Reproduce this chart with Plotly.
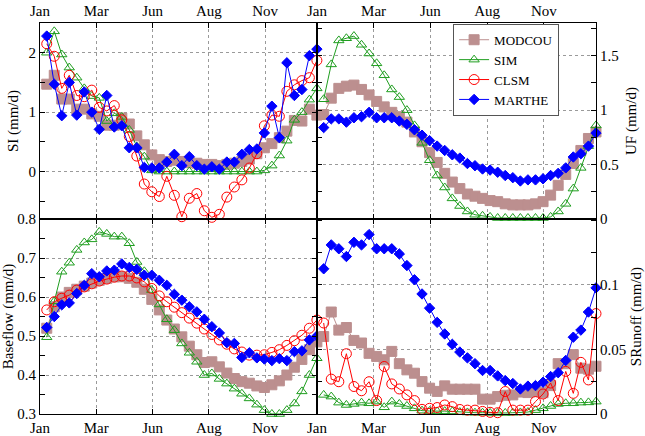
import plotly.graph_objects as go

# ---------------- data ----------------
DEC = [1, 2, 3, 4, 5, 6, 7, 8, 9, 10, 11, 12, 13, 14, 15, 16, 17, 18, 19, 20,
       21, 22, 23, 24, 25, 26, 27, 28, 29, 30, 31, 32, 33, 34, 35, 36, 37]
MONTH_LABELS = ["Jan", "Mar", "Jun", "Aug", "Nov"]
SERIES = ["MODCOU", "SIM", "CLSM", "MARTHE"]

SI_MODCOU = [1.47, 1.62, 1.22, 1.22, 1.05, 1.05, 0.97, 0.93, 0.78, 0.78, 0.90, 0.80,
             0.60, 0.45, 0.28, 0.20, 0.17, 0.19, 0.17, 0.15, 0.14, 0.12, 0.12, 0.10,
             0.12, 0.14, 0.17, 0.21, 0.30, 0.40, 0.47, 0.57, 0.68, 0.86, 0.85, 1.05, 0.95]
SI_SIM = [2.0, 2.36, 1.97, 1.75, 1.58, 1.40, 1.27, 1.24, 0.85, 0.98, 0.92, 0.70,
          0.42, 0.25, 0.02, 0, 0, 0, 0, 0, 0, 0, 0, 0, 0, 0, 0, 0, 0,
          0.02, 0.10, 0.27, 0.52, 0.87, 1.0, 1.21, 1.4]
SI_CLSM = [2.15, 1.94, 1.40, 1.62, 1.28, 1.26, 1.37, 1.08, 1.02, 1.11, 0.87, 0.59,
           0.26, -0.21, -0.34, -0.42, -0.08, -0.40, -0.76, -0.45, -0.37, -0.66, -0.77,
           -0.72, -0.43, -0.26, -0.14, 0.06, 0.30, 0.77, 0.95, 0.93, 1.35, 1.46, 1.53,
           1.58, 1.87]
SI_MARTHE = [2.28, 1.47, 0.94, 1.50, 0.95, 1.34, 1.00, 0.71, 1.28, 0.75, 0.77, 0.40,
             0.40, 0.07, 0.06, 0.06, 0.16, 0.29, 0.10, 0.25, 0.10, 0.04, 0.08, 0.04,
             0.16, 0.16, 0.29, 0.37, 0.38, 0.65, 1.10, 0.57, 1.83, 1.28, 1.38, 1.95, 2.06]

UF_MODCOU = [0.96, 1.11, 1.20, 1.22, 1.23, 1.19, 1.14, 1.08, 1.03, 0.98, 0.94, 0.89,
             0.80, 0.71, 0.61, 0.52, 0.42, 0.34, 0.28, 0.23, 0.21, 0.19, 0.17, 0.16,
             0.14, 0.13, 0.13, 0.13, 0.14, 0.16, 0.22, 0.31, 0.41, 0.51, 0.63, 0.74, 0.80]
UF_SIM = [1.10, 1.42, 1.64, 1.66, 1.68, 1.60, 1.52, 1.43, 1.32, 1.19, 1.12, 1.00,
          0.86, 0.70, 0.54, 0.40, 0.29, 0.19, 0.12, 0.07, 0.04, 0.03, 0.02, 0.01,
          0.01, 0.01, 0.01, 0.01, 0.01, 0.01, 0.02, 0.07, 0.14, 0.28, 0.47, 0.67, 0.86]
UF_MARTHE = [0.84, 0.92, 0.92, 0.89, 0.93, 0.94, 0.98, 0.93, 0.93, 0.93, 0.90, 0.87,
             0.82, 0.77, 0.72, 0.67, 0.63, 0.59, 0.56, 0.51, 0.49, 0.46, 0.45, 0.43,
             0.40, 0.38, 0.35, 0.36, 0.36, 0.37, 0.40, 0.42, 0.47, 0.57, 0.60, 0.67, 0.79]

BF_MODCOU = [0.52, 0.575, 0.60, 0.612, 0.62, 0.628, 0.636, 0.643, 0.648, 0.652, 0.652,
             0.648, 0.638, 0.62, 0.594, 0.567, 0.541, 0.518, 0.498, 0.474, 0.452, 0.432,
             0.434, 0.421, 0.405, 0.391, 0.383, 0.379, 0.372, 0.368, 0.375, 0.385, 0.40,
             0.42, 0.44, 0.465, 0.485]
BF_SIM = [0.497, 0.589, 0.665, 0.688, 0.721, 0.740, 0.748, 0.767, 0.762, 0.755, 0.755,
          0.738, 0.69, 0.666, 0.618, 0.581, 0.543, 0.515, 0.481, 0.457, 0.434, 0.40,
          0.404, 0.39, 0.378, 0.365, 0.352, 0.34, 0.324, 0.31, 0.30, 0.30, 0.31, 0.327,
          0.358, 0.40, 0.443]
BF_CLSM = [0.567, 0.588, 0.597, 0.605, 0.618, 0.626, 0.634, 0.641, 0.646, 0.651, 0.654,
           0.654, 0.649, 0.639, 0.622, 0.603, 0.588, 0.574, 0.56, 0.546, 0.533, 0.518,
           0.504, 0.49, 0.479, 0.467, 0.459, 0.451, 0.451, 0.452, 0.458, 0.465, 0.476,
           0.488, 0.502, 0.52, 0.541]
BF_MARTHE = [0.522, 0.55, 0.58, 0.585, 0.609, 0.63, 0.66, 0.652, 0.667, 0.669, 0.685,
             0.676, 0.671, 0.656, 0.656, 0.643, 0.63, 0.607, 0.592, 0.575, 0.562, 0.543,
             0.524, 0.508, 0.483, 0.481, 0.445, 0.457, 0.444, 0.441, 0.437, 0.442, 0.437,
             0.46, 0.462, 0.49, 0.50]

SR_MODCOU = [0.060, 0.079, 0.065, 0.067, 0.057, 0.055, 0.047, 0.0446, 0.042, 0.0485,
             0.039, 0.0342, 0.0316, 0.0251, 0.020, 0.0175, 0.0218, 0.0192, 0.0192, 0.0192,
             0.0192, 0.0115, 0.0115, 0.0135, 0.0145, 0.0148, 0.017, 0.0166, 0.0175, 0.0165,
             0.022, 0.039, 0.039, 0.046, 0.0355, 0.0347, 0.037]
SR_SIM = [0.0148, 0.0135, 0.0088, 0.007, 0.0078, 0.0088, 0.0083, 0.0096, 0.0052, 0.0096,
          0.0078, 0.0062, 0.0044, 0.0026, 0.0023, 0.002, 0.0022, 0.002, 0.0015, 0.0012,
          0.001, 0.001, 0.0008, 0.0008, 0.0008, 0.001, 0.0012, 0.0015, 0.003, 0.0044,
          0.0062, 0.0078, 0.0083, 0.0083, 0.0088, 0.009, 0.0096]
SR_CLSM = [0.0705, 0.027, 0.025, 0.0467, 0.0213, 0.018, 0.025, 0.0104, 0.0368, 0.0233,
           0.0194, 0.0148, 0.0104, 0.0036, 0.0044, 0.005, 0.007, 0.0057, 0.0035, 0.003,
           0.003, 0.002, 0.0013, 0.001, 0.0174, 0.003, 0.003, 0.003, 0.0096, 0.0155,
           0.024, 0.0104, 0.033, 0.016, 0.040, 0.0264, 0.0778]
SR_MARTHE = [0.1125, 0.131, 0.128, 0.122, 0.133, 0.131, 0.139, 0.128, 0.128, 0.128,
             0.124, 0.115, 0.104, 0.093, 0.082, 0.071, 0.062, 0.054, 0.048, 0.0435, 0.039,
             0.0337, 0.0337, 0.0295, 0.0259, 0.0236, 0.0194, 0.0216, 0.022, 0.0246, 0.029,
             0.032, 0.0415, 0.0595, 0.065, 0.079, 0.0977]

# ---------------- styles ----------------
FONT = "Liberation Serif"
STYLE = {
    "MODCOU": dict(color="#bc8f8f", symbol="square", size=10),
    "SIM": dict(color="#1f9e1f", symbol="triangle-up-open", size=9),
    "CLSM": dict(color="#ff0000", symbol="circle-open", size=10),
    "MARTHE": dict(color="#0000ff", symbol="diamond", size=8),
}

fig = go.Figure()


def add(name, y, xa, ya, legend):
    s = STYLE[name]
    fig.add_trace(go.Scatter(
        x=DEC, y=y, xaxis=xa, yaxis=ya, name=name, mode="lines+markers",
        line=dict(color=s["color"], width=1),
        marker=dict(symbol=s["symbol"], size=s["size"], color=s["color"],
                    line=dict(color=s["color"], width=1)),
        cliponaxis=False, showlegend=legend, legendrank=SERIES.index(name)))


panels = [
    ("x", "y", {"MODCOU": SI_MODCOU, "SIM": SI_SIM, "CLSM": SI_CLSM, "MARTHE": SI_MARTHE}),
    ("x2", "y2", {"MODCOU": UF_MODCOU, "SIM": UF_SIM, "MARTHE": UF_MARTHE}),
    ("x3", "y3", {"MODCOU": BF_MODCOU, "SIM": BF_SIM, "CLSM": BF_CLSM, "MARTHE": BF_MARTHE}),
    ("x4", "y4", {"MODCOU": SR_MODCOU, "SIM": SR_SIM, "CLSM": SR_CLSM, "MARTHE": SR_MARTHE}),
]
for i, (xa, ya, d) in enumerate(panels):
    for name in SERIES:
        if name in d:
            add(name, d[name], xa, ya, i == 0)

XR = [0.1, 37]
XT = [0.1, 7.6, 15.1, 22.6, 30.1]
XD = [0, 0.498]
XD2 = [0.498, 1]
YTOP = [0.4985, 1]
YBOT = [0, 0.4985]

tickfont = dict(family=FONT, size=15, color="black")


def xax(domain, anchor, side):
    return dict(domain=domain, anchor=anchor, side=side, range=XR, tickvals=XT,
                ticktext=MONTH_LABELS, showgrid=True, gridcolor="#9a9a9a", griddash="dot",
                gridwidth=1, ticks="inside", ticklen=5, tickcolor="black",
                showline=True, linecolor="black", linewidth=1, mirror="ticks",
                zeroline=False, tickfont=tickfont, automargin=False, fixedrange=True)


def yax(domain, anchor, side, rng, title, tickvals, minor_dtick, standoff):
    return dict(domain=domain, anchor=anchor, side=side, range=rng, tickvals=tickvals,
                showgrid=True, gridcolor="#9a9a9a", griddash="dot", gridwidth=1,
                ticks="inside", ticklen=5, tickcolor="black",
                minor=dict(dtick=minor_dtick, tick0=0, ticks="inside", ticklen=5,
                           tickcolor="black", showgrid=False),
                showline=True, linecolor="black", linewidth=1, mirror="ticks",
                zeroline=False, tickfont=tickfont, automargin=False,
                title=dict(text=title, font=dict(family=FONT, size=15, color="black"),
                           standoff=standoff))


fig.update_layout(
    width=645, height=436,
    margin=dict(l=40, r=49, t=23, b=22),
    paper_bgcolor="white", plot_bgcolor="rgba(0,0,0,0)",
    font=dict(family=FONT, size=15, color="black"),
    xaxis=xax(XD, "y", "top"),
    xaxis2=xax(XD2, "y2", "top"),
    xaxis3=xax(XD, "y3", "bottom"),
    xaxis4=xax(XD2, "y4", "bottom"),
    yaxis=yax(YTOP, "x", "left", [-0.8, 2.5], "SI (mm/d)", [0, 1, 2], 0.5, 6),
    yaxis2=yax(YTOP, "x2", "right", [0, 1.8], "UF (mm/d)", [0, 0.5, 1, 1.5], 0.25, 7),
    yaxis3=yax(YBOT, "x3", "left", [0.3, 0.8], "Baseflow (mm/d)",
               [0.3, 0.4, 0.5, 0.6, 0.7, 0.8], 0.05, 10),
    yaxis4=yax(YBOT, "x4", "right", [0, 0.151], "SRunoff (mm/d)", [0, 0.05, 0.1],
               0.025, 8),
    legend=dict(x=0.743, y=0.998, xanchor="left", yanchor="top", bgcolor="white",
                bordercolor="#555555", borderwidth=1, traceorder="normal",
                font=dict(family=FONT, size=13, color="black"), tracegroupgap=0,
                itemwidth=30),
    showlegend=True,
)

fig.write_html("out.html")
